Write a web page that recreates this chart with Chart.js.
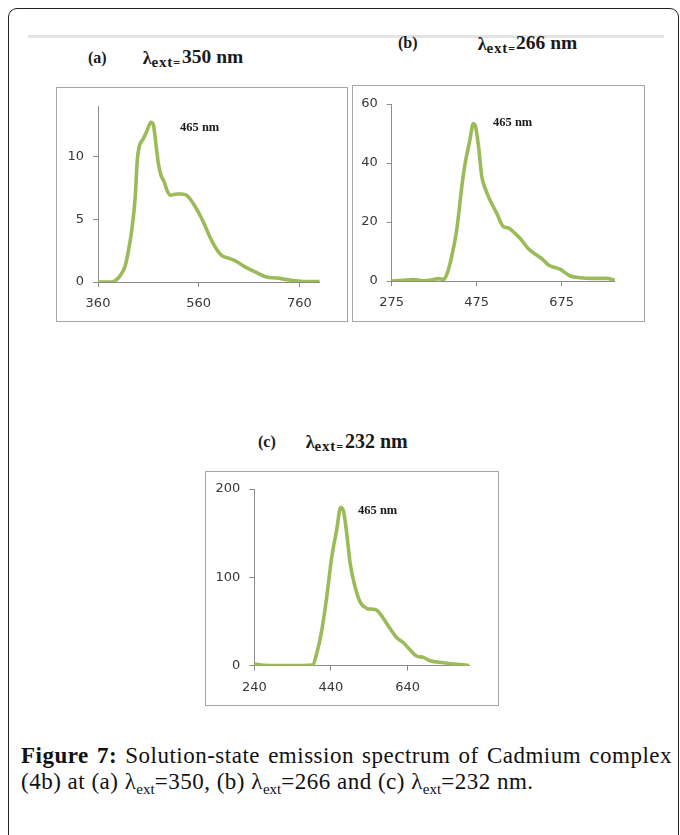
<!DOCTYPE html>
<html><head><meta charset="utf-8">
<script src="https://cdn.jsdelivr.net/npm/chart.js@4"></script>
<style>
html,body{margin:0;padding:0;background:#fff;}
body{width:680px;height:835px;position:relative;overflow:hidden;font-family:"Liberation Serif","Times New Roman",serif;color:#111;}
.frame{position:absolute;left:8px;top:8px;width:671px;height:900px;border:1.5px solid #222;border-radius:9px;box-sizing:border-box;}
.rule{position:absolute;left:28px;top:35px;width:636px;height:3px;background:#e4e4e4;}
.box{position:absolute;border:1px solid #a6a6a6;box-sizing:border-box;}
.cv{position:absolute;}
.t{position:absolute;line-height:0;font-weight:bold;white-space:nowrap;color:#1a1a1a;}
.t .s{position:relative;top:3px;font-size:15px;letter-spacing:0.8px;}
.t .e{position:relative;top:3px;font-size:12px;}
.ann{position:absolute;line-height:0;font-weight:bold;white-space:nowrap;font-size:12.5px;color:#1a1a1a;}
.cap{position:absolute;left:21px;line-height:0;font-size:23px;letter-spacing:0.5px;white-space:nowrap;color:#111;}
.cap .s{position:relative;top:5px;font-size:15px;letter-spacing:0;}
.l1{width:651px;text-align:justify;text-align-last:justify;}
</style>
</head><body>
<div class="frame"></div>
<div class="rule"></div>

<div class="box" style="left:56px;top:87px;width:292px;height:235px;"></div>
<div class="box" style="left:352px;top:85px;width:293px;height:237px;"></div>
<div class="box" style="left:205px;top:471px;width:294px;height:235px;"></div>

<canvas id="ca" class="cv" width="292" height="235" style="left:56px;top:87px;"></canvas>
<canvas id="cb" class="cv" width="293" height="237" style="left:352px;top:85px;"></canvas>
<canvas id="cc" class="cv" width="294" height="235" style="left:205px;top:471px;"></canvas>

<div class="t" style="left:88px;top:57.6px;font-size:16px;">(a)</div>
<div class="t" style="right:500px;top:57.9px;font-size:18px;">λ<span class="s">ext</span><span class="e">=</span></div>
<div class="t" style="left:182px;top:57.4px;font-size:19.5px;">350 nm</div>

<div class="t" style="left:398px;top:42.6px;font-size:16px;">(b)</div>
<div class="t" style="right:165px;top:43.9px;font-size:18px;">λ<span class="s">ext</span><span class="e">=</span></div>
<div class="t" style="left:516px;top:43.4px;font-size:19.5px;">266 nm</div>

<div class="t" style="left:258px;top:441.6px;font-size:16px;">(c)</div>
<div class="t" style="right:337px;top:441.9px;font-size:18px;">λ<span class="s">ext</span><span class="e">=</span></div>
<div class="t" style="left:345px;top:441.3px;font-size:20px;">232 nm</div>

<div class="ann" style="left:180px;top:126.8px;">465 nm</div>
<div class="ann" style="left:493px;top:122.3px;">465 nm</div>
<div class="ann" style="left:358px;top:509.8px;">465 nm</div>

<div class="cap l1" style="top:756.2px;"><b>Figure 7:</b> Solution-state emission spectrum of Cadmium complex</div>
<div class="cap" style="top:782.2px;">(4b) at (a) λ<span class="s">ext</span>=350, (b) λ<span class="s">ext</span>=266 and (c) λ<span class="s">ext</span>=232 nm.</div>

<script>
// Panel (a): excitation 350 nm
const aWavelength = [360, 375, 388, 394, 404, 414, 420, 427, 434, 438, 442, 450, 458, 465, 470, 475, 480, 485, 491, 498, 504, 516, 526, 536, 543, 556, 569, 582, 594, 606, 619, 632, 652, 672, 695, 715, 735, 761, 780, 800];
const aIntensity  = [0, 0, 0, 0.1, 0.5, 1.3, 2.4, 4.1, 6.8, 9.7, 10.8, 11.4, 12.1, 12.7, 12.5, 11.0, 9.4, 8.5, 8.0, 7.2, 6.9, 7.0, 7.0, 6.9, 6.6, 5.8, 4.8, 3.6, 2.7, 2.1, 1.9, 1.7, 1.2, 0.8, 0.4, 0.32, 0.19, 0.05, 0.03, 0.03];
const aXTicks = [360, 560, 760];
const aYTicks = [0, 5, 10];

// Panel (b): excitation 266 nm
const bWavelength = [275, 300, 325, 350, 370, 385, 397, 404, 416, 428, 440, 448, 459, 467, 471, 479, 487, 495, 506, 522, 538, 550, 561, 577, 596, 616, 632, 644, 671, 695, 718, 749, 781, 800];
const bIntensity  = [0, 0.2, 0.5, 0.1, 0.4, 0.8, 0.5, 2.0, 8.2, 17.3, 32, 40, 47.8, 53.4, 52.9, 46.0, 35.4, 31.4, 27.5, 23.0, 18.4, 18.0, 16.7, 14.5, 11.0, 8.8, 7.1, 5.4, 4.0, 1.7, 1.1, 0.9, 0.9, 0.3];
const bXTicks = [275, 475, 675];
const bYTicks = [0, 20, 40, 60];

// Panel (c): excitation 232 nm
const cWavelength = [240, 259, 298, 333, 368, 392, 403, 416, 429, 442, 455, 465, 472, 481, 490, 503, 516, 533, 546, 559, 576, 594, 611, 629, 646, 663, 681, 698, 733, 768, 800];
const cIntensity  = [1.9, 0.8, 0.2, 0.1, 0.3, 0.8, 14, 40, 78, 123, 154, 179, 176, 150, 116, 89, 72, 65, 64, 63, 54, 42, 32, 26, 18, 11, 9.4, 5.7, 3.4, 1.5, 0.3];
const cXTicks = [240, 440, 640];
const cYTicks = [0, 100, 200];

const LINE_COLOR = '#9bbb59';
const AXIS_COLOR = '#8c8c8c';
const TICK_FONT = {family: '"DejaVu Sans", Verdana, sans-serif', size: 13};
const TICK_COLOR = '#383838';

function makeChart(id, xs, ys, xMin, xMax, xTicks, yMax, yTicks, area) {
  const cv = document.getElementById(id);
  const w = cv.width, h = cv.height;
  const pts = xs.map((x, i) => ({x: x, y: ys[i]}));
  return new Chart(cv, {
    type: 'line',
    data: {datasets: [{
      data: pts,
      borderColor: LINE_COLOR,
      borderWidth: 3.6,
      pointRadius: 0,
      cubicInterpolationMode: 'monotone',
      borderJoinStyle: 'round',
      borderCapStyle: 'round',
      fill: false
    }]},
    options: {
      responsive: false,
      animation: false,
      events: [],
      layout: {padding: {top: area.top, right: w - area.right, left: 0, bottom: 0}},
      plugins: {legend: {display: false}, tooltip: {enabled: false}},
      scales: {
        x: {
          type: 'linear', min: xMin, max: xMax,
          afterBuildTicks: s => { s.ticks = xTicks.map(v => ({value: v})); },
          afterFit: s => { s.height = h - area.bottom; },
          grid: {drawOnChartArea: false, drawTicks: true, tickLength: 5, color: AXIS_COLOR},
          border: {color: AXIS_COLOR, width: 1},
          ticks: {font: TICK_FONT, color: TICK_COLOR, padding: 9, maxRotation: 0, autoSkip: false}
        },
        y: {
          type: 'linear', min: 0, max: yMax,
          afterBuildTicks: s => { s.ticks = yTicks.map(v => ({value: v})); },
          afterFit: s => { s.width = area.left; },
          grid: {drawOnChartArea: false, drawTicks: true, tickLength: 5, color: AXIS_COLOR},
          border: {color: AXIS_COLOR, width: 1},
          ticks: {font: TICK_FONT, color: TICK_COLOR, padding: 9, autoSkip: false}
        }
      }
    }
  });
}

makeChart('ca', aWavelength, aIntensity, 360, 800, aXTicks, 14, aYTicks, {left: 42, top: 19, bottom: 195, right: 263.5});
makeChart('cb', bWavelength, bIntensity, 275, 800, bXTicks, 60, bYTicks, {left: 39.7, top: 19, bottom: 196, right: 262.8});
makeChart('cc', cWavelength, cIntensity, 240, 800, cXTicks, 200, cYTicks, {left: 49.3, top: 18, bottom: 194.7, right: 264});
</script>
</body></html>
